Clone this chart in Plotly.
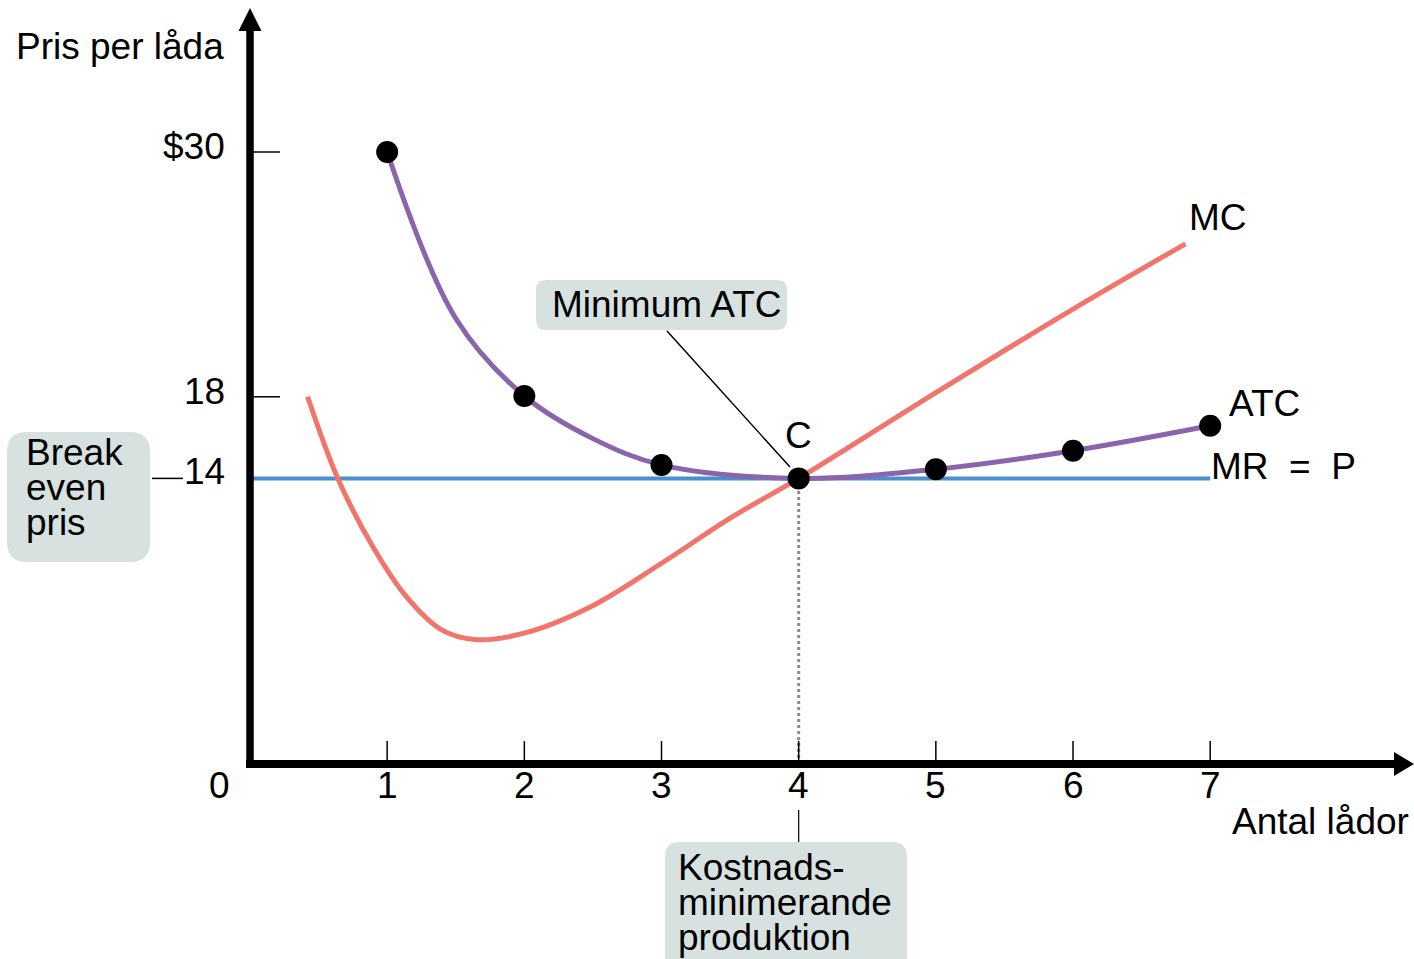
import plotly.graph_objects as go

# ---------------- data ----------------
quantity = [1, 2, 3, 4, 5, 6, 7]
atc = [30, 18.04, 14.66, 14.0, 14.45, 15.36, 16.58]
# ATC curve
atc_curve_q = [1, 1.5, 2, 2.5, 3, 4, 5, 6, 7]
atc_curve = [30, 21.84, 18.04, 15.95, 14.66, 14.0, 14.45, 15.36, 16.58]
mc_q = [0.42, 0.64, 0.90, 1.14, 1.39, 1.64, 1.99, 2.48, 3.0, 3.5, 4.0, 5.0, 6.0, 6.82]
mc = [18.0, 14.0, 10.6, 8.2, 6.6, 6.1, 6.4, 7.7, 9.84, 12.05, 14.0, 18.2, 22.3, 25.5]
price = 14
q_min = 4
x_ticks = [1, 2, 3, 4, 5, 6, 7]
y_ticks = [30, 18]
y_tick_text = ["$30", "18"]

# ---------------- styling ----------------
FONT = "Liberation Sans, Arial, sans-serif"
FS = 37
PURPLE = "#8b65ab"
RED = "#f2756c"
BLUE = "#4b8fd0"
BOX = "#d7e1df"

W, H = 1414, 959
PX_X = 137.17   # pixels per unit of quantity
PX_Y = 20.4     # pixels per dollar
X0, Y0 = 250, 764
xr = [-X0 / PX_X, (W - X0) / PX_X]
yr = [(Y0 - H) / PX_Y, Y0 / PX_Y]

def dx(px):
    return (px - X0) / PX_X

def dy(py):
    return (Y0 - py) / PX_Y

fig = go.Figure()

# MR = P line
fig.add_trace(go.Scatter(x=[0, quantity[-1]], y=[price, price], mode="lines",
                         line=dict(color=BLUE, width=4), hoverinfo="skip"))
# MC curve
fig.add_trace(go.Scatter(x=mc_q, y=mc, mode="lines",
                         line=dict(color=RED, width=5, shape="spline", smoothing=1.0),
                         hoverinfo="skip"))
# ATC curve
fig.add_trace(go.Scatter(x=atc_curve_q, y=atc_curve, mode="lines",
                         line=dict(color=PURPLE, width=5, shape="spline", smoothing=1.0),
                         hoverinfo="skip"))
# ATC dots
fig.add_trace(go.Scatter(x=quantity, y=atc, mode="markers",
                         marker=dict(color="black", size=22, symbol="circle"),
                         hoverinfo="skip"))

shapes = []

def rrect(x0p, y0p, x1p, y1p, r):
    x0, x1 = dx(x0p), dx(x1p)
    y0, y1 = dy(y0p), dy(y1p)  # y0 top, y1 bottom
    rx, ry = r / PX_X, r / PX_Y
    path = (f"M {x0+rx},{y0} L {x1-rx},{y0} Q {x1},{y0} {x1},{y0-ry} "
            f"L {x1},{y1+ry} Q {x1},{y1} {x1-rx},{y1} L {x0+rx},{y1} "
            f"Q {x0},{y1} {x0},{y1+ry} L {x0},{y0-ry} Q {x0},{y0} {x0+rx},{y0} Z")
    return dict(type="path", path=path, xref="x", yref="y", fillcolor=BOX,
                line=dict(width=0), layer="below")

shapes.append(rrect(7, 432, 150, 562, 20))
shapes.append(rrect(536, 280, 787, 330, 10))
shapes.append(rrect(665, 842, 907, 990, 15))

# dotted line at minimum
shapes.append(dict(type="line", xref="x", yref="y", x0=q_min, x1=q_min, y0=0, y1=price,
                   line=dict(color="#8c8c8c", width=3, dash="dot"), layer="below"))
# leader from Minimum ATC box
shapes.append(dict(type="line", xref="x", yref="y", x0=dx(667), y0=dy(331), x1=dx(790), y1=dy(467),
                   line=dict(color="black", width=1.5)))
# line below 4 to box
shapes.append(dict(type="line", xref="x", yref="y", x0=q_min, x1=q_min, y0=dy(810), y1=dy(842),
                   line=dict(color="black", width=1.2)))
# dash before 14
shapes.append(dict(type="line", xref="x", yref="y", x0=dx(152), x1=dx(183), y0=price, y1=price,
                   line=dict(color="black", width=1.5)))
# x ticks
for q in x_ticks:
    shapes.append(dict(type="line", xref="x", yref="y", x0=q, x1=q, y0=dy(741), y1=0,
                       line=dict(color="black", width=1.5)))
# y ticks
for v in y_ticks:
    shapes.append(dict(type="line", xref="x", yref="y", x0=0, x1=dx(280), y0=v, y1=v,
                       line=dict(color="black", width=1.5)))
# axes
shapes.append(dict(type="line", xref="x", yref="y", x0=dx(246), x1=dx(1398), y0=0, y1=0,
                   line=dict(color="black", width=8)))
shapes.append(dict(type="line", xref="x", yref="y", x0=0, x1=0, y0=dy(768), y1=dy(28),
                   line=dict(color="black", width=7.5)))
# arrow heads
shapes.append(dict(type="path", xref="x", yref="y",
                   path=f"M {dx(1394)},{dy(752)} L {dx(1414)},{dy(764)} L {dx(1394)},{dy(776)} Z",
                   fillcolor="black", line=dict(width=0)))
shapes.append(dict(type="path", xref="x", yref="y",
                   path=f"M {dx(238.5)},{dy(31)} L {dx(250)},{dy(8)} L {dx(261.5)},{dy(31)} Z",
                   fillcolor="black", line=dict(width=0)))

ann = []

def text(t, x, y, xa="center", ya="middle"):
    ann.append(dict(text=t, x=x, y=y, xref="x", yref="y", xanchor=xa, yanchor=ya,
                    showarrow=False, borderpad=0,
                    font=dict(family=FONT, size=FS, color="black")))

text("Pris per låda", dx(15), dy(46.5), xa="left")
for v, t in zip(y_ticks, y_tick_text):
    text(t, dx(226), v + 5.5 / PX_Y, xa="right")
text("14", dx(226), price + 6.5 / PX_Y, xa="right")
text("0", dx(219), dy(785.5))
for q in x_ticks:
    text(str(q), q, dy(785.5))
text("Antal lådor", dx(1410), dy(821.5), xa="right")
text("C", q_min, dy(435))
text("MC", dx(1188), dy(217), xa="left")
text("ATC", dx(1228), dy(403.5), xa="left")
text("MR\u00a0\u00a0=\u00a0\u00a0P", dx(1210), dy(466.5), xa="left")
text("Minimum ATC", dx(551), dy(304.5), xa="left")
for i, line in enumerate(["Break", "even", "pris"]):
    text(line, dx(25), dy(452.5 + 35 * i), xa="left")
for i, line in enumerate(["Kostnads-", "minimerande", "produktion"]):
    text(line, dx(677), dy(867.5 + 35 * i), xa="left")

fig.update_layout(
    width=W, height=H, autosize=False,
    margin=dict(l=0, r=0, t=0, b=0),
    paper_bgcolor="white", plot_bgcolor="white",
    showlegend=False,
    xaxis=dict(range=xr, visible=False, fixedrange=True),
    yaxis=dict(range=yr, visible=False, fixedrange=True),
    shapes=shapes, annotations=ann,
)

fig.write_html("out.html", config={"displayModeBar": False})
